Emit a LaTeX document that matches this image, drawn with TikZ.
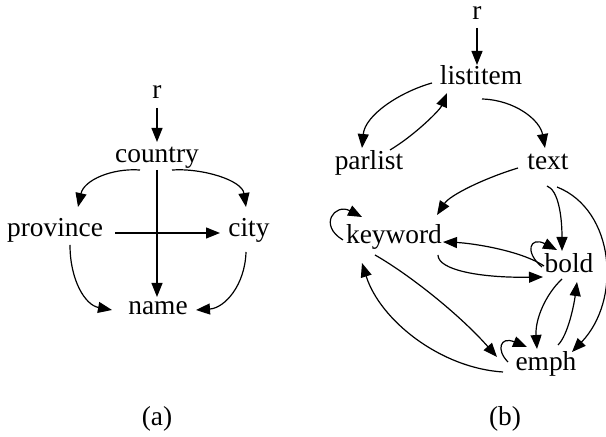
\documentclass[tikz,border=0pt]{standalone}
\usepackage{fontspec}
\setmainfont{Liberation Serif}
\usetikzlibrary{arrows.meta}
\begin{document}
\begin{tikzpicture}[x=0.5pt,y=-0.5pt,
  lbl/.style={inner sep=0pt, anchor=base, font=\fontsize{13.7}{16}\selectfont},
  arr/.style={-{Triangle[length=7pt,width=5.5pt]}, line width=0.6pt},
  ]
\useasboundingbox (0,0) rectangle (606,437);
% ---------- (a)
\node[lbl] (ra) at (157,99) {r};
\node[lbl] (country) at (157,163) {country};
\node[lbl] (prov) at (55,237) {province};
\node[lbl] (city) at (249,237) {city};
\node[lbl] (name) at (158,315) {name};
\node[lbl] (capa) at (157,426) {(a)};

\draw[arr] ([shift={(0,9)}]ra.base) -- ([shift={(0,-21)}]country.base);
\draw[arr] ([shift={(-17,7)}]country.base) .. controls (112,168) and (84,180) .. ([shift={(23,-30)}]prov.base);
\draw[arr] ([shift={(15,7)}]country.base) .. controls (202,168) and (242,180) .. ([shift={(-3,-30)}]city.base);
\draw[arr] ([shift={(0,7)}]country.base) -- ([shift={(-1,-18)}]name.base);
\draw[arr] ([shift={(60,-4)}]prov.base) -- ([shift={(-29,-4)}]city.base);
\draw[arr] ([shift={(15,8)}]prov.base) .. controls (70,280) and (85,305) .. ([shift={(-46,-5)}]name.base);
\draw[arr] ([shift={(-3,15)}]city.base) .. controls (245,285) and (225,308) .. ([shift={(38,-5)}]name.base);

% ---------- (b)
\node[lbl] (rb) at (477,20) {r};
\node[lbl] (li) at (481,85) {listitem};
\node[lbl] (par) at (369,170) {parlist};
\node[lbl] (txt) at (548,170) {text};
\node[lbl] (kw) at (394,244) {keyword};
\node[lbl] (bold) at (569,273) {bold};
\node[lbl] (emph) at (546,371) {emph};
\node[lbl] (capb) at (505,426) {(b)};

\draw[arr] ([shift={(0,8)}]rb.base) -- ([shift={(-4,-20)}]li.base);
\draw[arr] ([shift={(-49,-2)}]li.base) .. controls (400,92) and (365,115) .. ([shift={(-7,-22)}]par.base);
\draw[arr] ([shift={(21,-20)}]par.base) .. controls (415,135) and (440,110) .. ([shift={(-34,8)}]li.base);
\draw[arr] ([shift={(1,14)}]li.base) .. controls (515,100) and (540,120) .. ([shift={(-3,-22)}]txt.base);
\draw[arr] ([shift={(-30,-2)}]txt.base) .. controls (485,178) and (450,195) .. ([shift={(43,-29)}]kw.base);
\draw[arr] ([shift={(-1,16)}]txt.base) .. controls (558,190) and (562,215) .. ([shift={(-7,-22)}]bold.base);
\draw[arr] ([shift={(9,17)}]txt.base) .. controls (615,210) and (622,300) .. ([shift={(26,-19)}]emph.base);
\draw[arr] ([shift={(-51,-4)}]kw.base) .. controls (318,225) and (335,203) .. ([shift={(-32,-27)}]kw.base);
\draw[arr] ([shift={(-25,-7)}]bold.base) .. controls (520,250) and (470,243) .. ([shift={(49,-2)}]kw.base);
\draw[arr] ([shift={(44,11)}]kw.base) .. controls (438,270) and (480,278) .. ([shift={(-26,4)}]bold.base);
\draw[arr] ([shift={(-27,-6)}]bold.base) .. controls (524,252) and (530,236) .. ([shift={(-12,-23)}]bold.base);
\draw[arr] ([shift={(-7,6)}]bold.base) .. controls (545,295) and (535,320) .. ([shift={(-9,-22)}]emph.base);
\draw[arr] ([shift={(12,-26)}]emph.base) .. controls (568,335) and (574,305) .. ([shift={(8,9)}]bold.base);
\draw[arr] ([shift={(-19,11)}]kw.base) .. controls (410,275) and (460,315) .. ([shift={(-49,-14)}]emph.base);
\draw[arr] ([shift={(-43,1)}]emph.base) .. controls (440,368) and (380,320) .. ([shift={(-32,19)}]kw.base);
\draw[arr] ([shift={(-38,-9)}]emph.base) .. controls (496,350) and (500,336) .. ([shift={(-19,-24)}]emph.base);
\end{tikzpicture}
\end{document}
